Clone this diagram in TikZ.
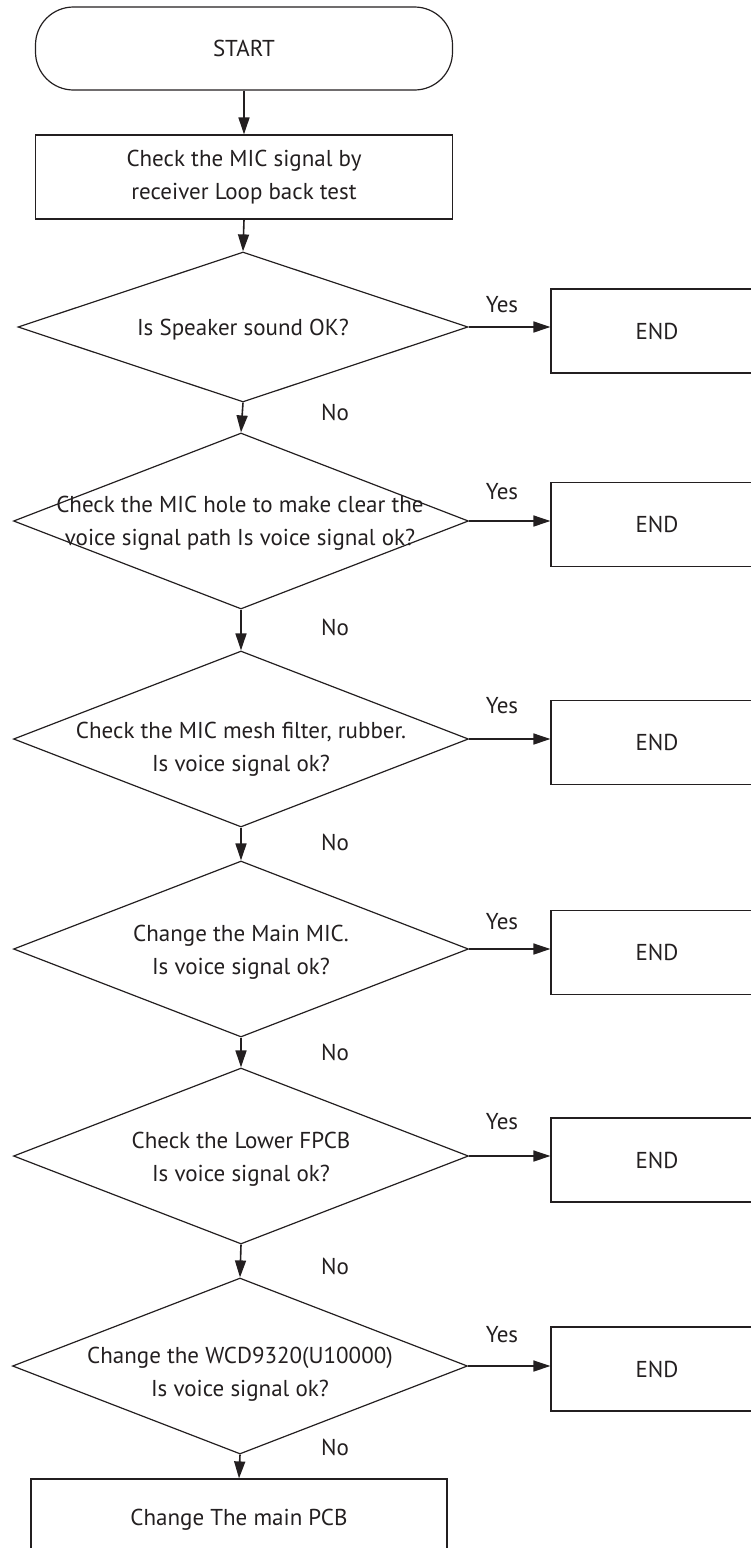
\documentclass[tikz,border=0pt]{standalone}
\usepackage{fontspec}
\setmainfont{PT Sans}
\usetikzlibrary{shapes.geometric,arrows.meta}
\definecolor{ink}{RGB}{35,31,32}
\begin{document}
\begin{tikzpicture}[x=1pt,y=-1pt,
  every node/.style={text=ink, font=\fontsize{23}{33}\selectfont},
  terminal/.style={draw=ink, line width=1.2pt, rounded corners=38pt, minimum width=417pt, minimum height=83pt, inner sep=0pt},
  procbox/.style={draw=ink, line width=1.2pt, minimum width=417pt, minimum height=84pt, inner sep=0pt, align=center},
  decision/.style={draw=ink, line width=1.2pt, diamond, minimum width=455pt, minimum height=176pt, inner sep=0pt},
  endbox/.style={draw=ink, line width=1.2pt, minimum width=212pt, minimum height=84pt, inner sep=0pt},
  dtext/.style={align=center, inner sep=0pt},
  lbl/.style={inner sep=0pt},
  flow/.style={draw=ink, line width=1.6pt, -{Triangle[length=17pt,width=11pt]}},
]
\clip (0,0) rectangle (751,1548);

\node[terminal] (start) at (244,48.5) {START};
\node[procbox] (box1) at (244,177) {Check the MIC signal by\\receiver Loop back test};

\node[decision, minimum width=450pt, minimum height=150pt] (d1) at (243,327) {};
\node[dtext] (d1t) at (243,330) {Is Speaker sound OK?};
\node[decision] (d2) at (241,521) {};
\node[dtext] (d2t) at (240,523.5) {Check the MIC hole to make clear the\\voice signal path Is voice signal ok?};
\node[decision] (d3) at (241,739) {};
\node[dtext] (d3t) at (241,749) {Check the MIC mesh filter, rubber.\\Is voice signal ok?};
\node[decision] (d4) at (241,949) {};
\node[dtext] (d4t) at (241,952.5) {Change the Main MIC.\\Is voice signal ok?};
\node[decision] (d5) at (241,1156) {};
\node[dtext] (d5t) at (241,1159) {Check the Lower FPCB\\Is voice signal ok?};
\node[decision] (d6) at (240,1366) {};
\node[dtext] (d6t) at (240,1374) {Change the WCD9320(U10000)\\Is voice signal ok?};

\node[procbox, minimum width=416pt, minimum height=82pt] (final) at (239,1520) {Change The main PCB};

\node[endbox] (e1) at (657,331) {END};
\node[endbox] (e2) at (657,524.5) {END};
\node[endbox] (e3) at (657,742.5) {END};
\node[endbox] (e4) at (657,952.5) {END};
\node[endbox] (e5) at (657,1160) {END};
\node[endbox] (e6) at (657,1369) {END};

\node[lbl] (y1) at (502,305) {Yes};
\node[lbl] (y2) at (502,492) {Yes};
\node[lbl] (y3) at (502,706) {Yes};
\node[lbl] (y4) at (502,922) {Yes};
\node[lbl] (y5) at (502,1122) {Yes};
\node[lbl] (y6) at (502,1335) {Yes};

\node[lbl] (n1) at (335,412) {No};
\node[lbl] (n2) at (335,627) {No};
\node[lbl] (n3) at (335,842) {No};
\node[lbl] (n4) at (335,1052) {No};
\node[lbl] (n5) at (335,1266) {No};
\node[lbl] (n6) at (335,1447) {No};

\draw[flow] (start.south) -- (box1.north);
\draw[flow] (box1.south) -- (d1.north);
\draw[flow] (d1.south) -- (d2.north);
\draw[flow] (d2.south) -- (d3.north);
\draw[flow] (d3.south) -- (d4.north);
\draw[flow] (d4.south) -- (d5.north);
\draw[flow] (d5.south) -- (d6.north);
\draw[flow] (d6.south) -- (final.north);

\draw[flow] (d1.east) -- (d1.east -| e1.west);
\draw[flow] (d2.east) -- (d2.east -| e2.west);
\draw[flow] (d3.east) -- (d3.east -| e3.west);
\draw[flow] (d4.east) -- (d4.east -| e4.west);
\draw[flow] (d5.east) -- (d5.east -| e5.west);
\draw[flow] (d6.east) -- (d6.east -| e6.west);
\end{tikzpicture}
\end{document}
